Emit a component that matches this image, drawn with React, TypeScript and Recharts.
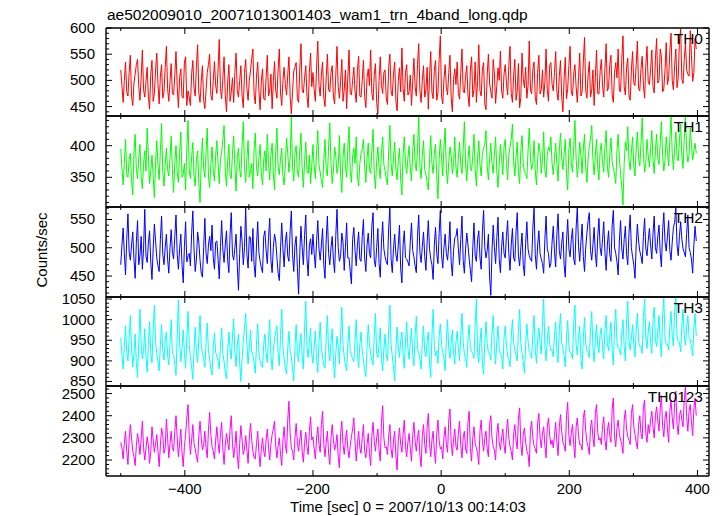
import { LineChart, Line, XAxis, YAxis } from 'recharts'

const FONT = '"Liberation Sans", Arial, Helvetica, sans-serif'

// light curve bins: start time and bin width (sec); each bin has a start and a mid sample
const TIME_START = -500
const TIME_STEP = 3.75

const th0 = [
  520, 458, 535, 470, 548, 452, 512, 540, 462, 558, 468, 525, 445, 538, 475, 552, 455, 530, 478, 565,
  460, 532, 472, 555, 448, 522, 466, 545, 480, 452, 538, 470, 568, 458, 528, 446, 515, 550, 462, 536,
  475, 578, 465, 545, 440, 530, 478, 458, 552, 468, 528, 448, 540, 462, 518, 560, 455, 535, 444, 522,
  462, 548, 480, 446, 536, 466, 560, 452, 525, 472, 545, 436, 518, 534, 458, 570, 476, 528, 448, 552,
  515, 460, 575, 470, 535, 450, 550, 478, 528, 455, 565, 466, 540, 482, 446, 558, 472, 525, 458, 546,
  468, 538, 448, 522, 558, 462, 532, 436, 545, 475, 520, 454, 550, 470, 535, 442, 524, 562, 460, 530,
  478, 452, 542, 470, 570, 458, 528, 482, 445, 555, 465, 538, 476, 585, 455, 530, 472, 548, 440, 522,
  535, 464, 560, 476, 528, 450, 545, 482, 458, 568, 470, 534, 444, 550, 478, 540, 456, 524, 556, 466,
  530, 472, 565, 458, 540, 480, 448, 552, 486, 466, 575, 474, 535, 454, 548, 482, 468, 560, 460, 534,
  480, 555, 462, 538, 440, 544, 484, 565, 470, 530, 458, 552, 478, 582, 466, 536, 482, 452, 558, 474,
  540, 468, 570, 486, 548, 458, 534, 560, 478, 585, 472, 542, 462, 555, 490, 575, 480, 546, 466, 565,
  492, 558, 476, 580, 500, 545, 484, 572, 504, 590, 482, 560, 506, 598, 494, 570, 512, 595, 498, 580,
]
const th0Mid = [
  490, 500, 478, 515, 470, 495, 530, 488, 505, 482, 498, 470, 512, 460, 520, 492, 508, 466, 525, 484,
  498, 475, 510, 488, 505, 470, 535, 452, 468, 512, 485, 528, 476, 498, 462, 480, 530, 472, 500, 490,
  520, 484, 505, 472, 495, 460, 505, 515, 480, 500, 470, 515, 485, 500, 542, 472, 508, 480, 498, 465,
  505, 470, 512, 498, 480, 522, 476, 500, 492, 510, 470, 480, 525, 465, 520, 482, 505, 470, 515, 488,
  482, 525, 490, 512, 468, 505, 482, 515, 470, 510, 488, 498, 460, 520, 505, 475, 500, 478, 520, 470,
  500, 470, 505, 490, 475, 512, 458, 500, 490, 515, 466, 525, 480, 512, 462, 500, 478, 485, 515, 472,
  510, 498, 488, 530, 480, 500, 468, 525, 505, 478, 520, 462, 540, 470, 502, 488, 515, 468, 502, 492,
  475, 515, 480, 508, 472, 520, 468, 535, 498, 480, 522, 455, 510, 495, 466, 512, 490, 500, 480, 512,
  495, 528, 475, 510, 462, 532, 468, 502, 525, 490, 482, 520, 468, 515, 474, 520, 495, 482, 528, 492,
  515, 478, 508, 470, 505, 465, 528, 478, 512, 488, 505, 470, 535, 480, 512, 468, 520, 505, 475, 518,
  490, 522, 480, 530, 472, 515, 505, 480, 540, 488, 525, 470, 520, 495, 530, 484, 522, 492, 528, 498,
  520, 488, 540, 495, 560, 478, 520, 492, 555, 500, 530, 486, 575, 502, 540, 520, 508, 548, 515, 560,
]

const th1 = [
  395, 338, 410, 350, 388, 322, 418, 348, 402, 332, 392, 428, 340, 385, 318, 408, 346, 435, 336, 396,
  352, 415, 326, 400, 342, 422, 355, 330, 440, 348, 405, 336, 392, 310, 412, 350, 428, 334, 398, 344,
  408, 340, 390, 432, 336, 402, 348, 415, 328, 396, 350, 438, 342, 408, 358, 332, 420, 352, 402, 338,
  392, 418, 346, 404, 330, 428, 354, 396, 338, 412, 358, 445, 344, 400, 350, 420, 334, 406, 356, 340,
  402, 348, 424, 358, 334, 410, 352, 436, 340, 398, 356, 416, 326, 404, 350, 430, 342, 396, 414, 336,
  388, 410, 342, 404, 356, 426, 332, 398, 348, 414, 360, 338, 432, 352, 406, 346, 396, 322, 414, 356,
  400, 344, 418, 360, 446, 348, 408, 354, 330, 416, 356, 402, 316, 410, 352, 428, 340, 398, 356, 414,
  350, 406, 356, 438, 344, 400, 360, 418, 336, 408, 352, 396, 424, 346, 404, 356, 414, 334, 402, 354,
  410, 346, 398, 434, 352, 406, 340, 416, 358, 348, 428, 362, 408, 338, 404, 356, 422, 350, 398, 414,
  354, 404, 344, 420, 362, 410, 330, 412, 358, 440, 350, 406, 356, 418, 342, 400, 432, 354, 410, 346,
  404, 358, 424, 350, 412, 364, 340, 418, 356, 306, 406, 430, 362, 414, 352, 422, 368, 444, 358, 410,
  366, 424, 356, 418, 370, 438, 360, 414, 368, 446, 362, 422, 376, 434, 364, 446, 374, 428, 378, 404,
]
const th1Mid = [
  365, 372, 355, 378, 345, 390, 362, 380, 350, 372, 360, 385, 360, 352, 375, 368, 392, 358, 370, 362,
  380, 362, 372, 358, 388, 350, 372, 395, 360, 382, 352, 378, 340, 375, 365, 390, 352, 370, 362, 385,
  372, 378, 410, 360, 375, 352, 388, 368, 382, 362, 400, 365, 380, 350, 372, 395, 365, 380, 356, 378,
  360, 372, 385, 355, 390, 366, 380, 352, 372, 388, 380, 366, 388, 358, 392, 365, 375, 360, 385, 368,
  368, 392, 370, 345, 378, 362, 398, 372, 360, 384, 368, 355, 382, 368, 395, 360, 384, 372, 352, 372,
  395, 368, 380, 362, 392, 355, 375, 365, 390, 370, 348, 392, 372, 380, 362, 378, 345, 385, 372, 380,
  365, 390, 372, 395, 368, 385, 362, 342, 378, 372, 388, 352, 378, 382, 398, 362, 375, 385, 372, 365,
  382, 370, 395, 372, 378, 365, 385, 362, 380, 370, 388, 402, 368, 380, 372, 388, 358, 372, 380, 398,
  372, 385, 410, 375, 382, 358, 392, 372, 356, 392, 380, 372, 360, 378, 390, 375, 362, 385, 392, 372,
  380, 370, 392, 380, 386, 355, 395, 372, 398, 380, 372, 385, 395, 365, 380, 410, 378, 385, 365, 392,
  372, 398, 368, 385, 375, 355, 392, 380, 335, 372, 392, 376, 390, 368, 395, 380, 402, 388, 372, 385,
  395, 378, 392, 380, 405, 385, 378, 392, 410, 388, 395, 382, 408, 385, 412, 392, 385, 402, 392, 388,
]

const th2 = [
  470, 535, 452, 560, 478, 528, 446, 548, 486, 462, 568, 474, 530, 444, 542, 482, 458, 556, 470, 524,
  455, 532, 480, 558, 462, 524, 438, 546, 486, 468, 565, 458, 528, 478, 448, 552, 472, 520, 540, 462,
  512, 445, 548, 474, 530, 456, 562, 478, 524, 425, 538, 470, 570, 464, 518, 534, 448, 546, 476, 456,
  530, 472, 552, 456, 524, 482, 442, 544, 466, 528, 476, 565, 458, 520, 418, 538, 470, 558, 450, 516,
  524, 464, 548, 478, 534, 446, 556, 470, 520, 456, 568, 476, 526, 460, 544, 482, 436, 536, 468, 528,
  476, 550, 458, 526, 482, 562, 466, 534, 448, 546, 484, 470, 570, 456, 524, 476, 540, 438, 530, 480,
  468, 544, 484, 456, 558, 474, 528, 460, 548, 480, 444, 536, 472, 566, 464, 524, 478, 546, 450, 518,
  534, 470, 556, 455, 526, 480, 440, 544, 476, 530, 462, 566, 482, 524, 416, 540, 472, 554, 456, 528,
  482, 548, 460, 534, 476, 562, 468, 526, 450, 546, 486, 476, 570, 462, 530, 480, 455, 556, 490, 472,
  538, 466, 560, 480, 528, 448, 550, 484, 534, 470, 572, 476, 542, 458, 526, 562, 478, 536, 466, 552,
  486, 546, 460, 530, 476, 566, 490, 452, 548, 480, 538, 470, 558, 484, 446, 542, 494, 472, 552, 486,
  534, 480, 556, 490, 540, 466, 562, 494, 548, 478, 536, 570, 486, 546, 498, 484, 558, 492, 455, 538,
]
const th2Mid = [
  505, 490, 515, 492, 505, 480, 510, 470, 520, 498, 485, 508, 475, 498, 512, 468, 515, 488, 500, 480,
  500, 492, 520, 488, 498, 470, 502, 475, 490, 525, 498, 480, 510, 455, 500, 490, 505, 495, 482, 510,
  480, 502, 496, 505, 478, 525, 488, 500, 468, 490, 512, 500, 488, 520, 476, 470, 505, 492, 465, 520,
  495, 518, 478, 500, 512, 455, 500, 498, 510, 485, 530, 488, 505, 465, 490, 500, 522, 480, 505, 488,
  490, 512, 498, 505, 470, 515, 490, 500, 478, 522, 500, 485, 510, 500, 482, 458, 515, 495, 505, 480,
  520, 482, 505, 490, 538, 478, 500, 472, 510, 498, 475, 535, 480, 498, 488, 505, 462, 505, 482, 475,
  512, 495, 468, 520, 492, 502, 485, 510, 498, 470, 505, 490, 525, 488, 500, 490, 505, 475, 495, 520,
  498, 515, 478, 498, 505, 460, 500, 485, 515, 482, 528, 500, 495, 448, 495, 500, 518, 480, 502, 490,
  520, 490, 505, 482, 528, 485, 500, 470, 508, 498, 480, 535, 488, 505, 490, 472, 515, 498, 465, 510,
  492, 525, 495, 508, 470, 512, 498, 515, 480, 535, 502, 510, 485, 500, 548, 495, 505, 490, 520, 500,
  515, 492, 505, 488, 540, 500, 475, 512, 498, 515, 488, 525, 500, 470, 505, 512, 485, 520, 498, 512,
  505, 525, 500, 520, 490, 530, 510, 520, 495, 510, 545, 505, 520, 515, 492, 525, 500, 480, 505, 512,
]

const th3 = [
  955, 880, 985, 900, 1010, 885, 965, 860, 1025, 905, 978, 872, 995, 895, 1035, 918, 876, 988, 902, 970,
  890, 1000, 915, 865, 1048, 898, 975, 882, 1020, 908, 855, 982, 896, 1010, 920, 884, 992, 905, 866, 968,
  912, 880, 980, 898, 856, 970, 904, 1002, 886, 965, 850, 948, 1015, 892, 975, 914, 870, 990, 900, 884,
  965, 896, 1000, 878, 955, 985, 888, 1025, 904, 868, 972, 910, 852, 988, 898, 966, 880, 1045, 908, 980,
  894, 972, 872, 994, 908, 882, 1010, 900, 978, 858, 960, 892, 1030, 910, 876, 985, 914, 898, 1000, 884,
  970, 902, 862, 988, 918, 890, 1015, 908, 980, 876, 965, 900, 1035, 912, 852, 982, 908, 970, 882, 994,
  904, 980, 888, 1008, 918, 880, 985, 910, 970, 860, 1025, 912, 894, 990, 922, 876, 1000, 906, 975, 892,
  972, 900, 1015, 918, 884, 988, 922, 906, 1050, 896, 980, 868, 995, 920, 902, 1010, 892, 984, 916, 880,
  985, 912, 886, 1000, 926, 900, 1025, 918, 870, 990, 922, 906, 1010, 894, 980, 916, 1050, 900, 984, 926,
  910, 994, 896, 1015, 928, 886, 998, 920, 904, 1035, 914, 984, 880, 1005, 926, 908, 1020, 898, 988, 920,
  980, 905, 1010, 925, 994, 890, 1025, 930, 914, 1000, 900, 1045, 926, 988, 910, 1015, 935, 918, 1050, 930,
  995, 918, 1030, 935, 1010, 910, 1052, 940, 926, 1020, 936, 1054, 948, 922, 1025, 938, 1010, 952, 912, 1015,
]
const th3Mid = [
  915, 935, 922, 955, 930, 918, 895, 945, 938, 925, 910, 940, 920, 975, 945, 898, 940, 925, 948, 915,
  940, 918, 892, 960, 942, 930, 920, 955, 940, 885, 925, 918, 955, 938, 905, 942, 925, 880, 935, 920,
  900, 935, 918, 872, 925, 930, 960, 920, 938, 895, 905, 978, 940, 932, 922, 895, 940, 918, 890, 940,
  920, 955, 912, 925, 970, 918, 962, 935, 882, 930, 925, 880, 935, 918, 945, 912, 980, 932, 948, 915,
  935, 905, 945, 930, 890, 955, 925, 945, 900, 918, 935, 962, 940, 892, 940, 922, 905, 950, 920, 938,
  925, 880, 935, 942, 902, 960, 918, 942, 905, 930, 915, 975, 940, 885, 925, 935, 948, 915, 948, 930,
  945, 915, 962, 930, 905, 945, 922, 948, 895, 960, 935, 925, 960, 938, 905, 950, 928, 942, 918, 945,
  930, 962, 945, 905, 955, 930, 918, 985, 920, 948, 895, 945, 942, 918, 968, 925, 950, 930, 912, 955,
  938, 905, 960, 945, 915, 975, 942, 898, 940, 948, 918, 965, 928, 950, 942, 995, 935, 952, 940, 925,
  962, 918, 975, 945, 915, 960, 935, 918, 990, 940, 960, 905, 955, 942, 920, 975, 932, 955, 938, 965,
  930, 975, 942, 960, 925, 985, 945, 928, 968, 935, 1000, 948, 955, 940, 975, 948, 935, 1005, 955, 970,
  945, 1000, 950, 975, 945, 1010, 955, 940, 985, 960, 1020, 958, 945, 985, 962, 980, 958, 935, 980, 960,
]

const th0123 = [
  2280, 2205, 2330, 2180, 2360, 2240, 2175, 2320, 2225, 2375, 2200, 2305, 2185, 2350, 2235, 2315, 2170, 2345, 2230, 2385,
  2210, 2330, 2240, 2400, 2215, 2340, 2170, 2315, 2450, 2225, 2360, 2250, 2190, 2375, 2245, 2330, 2210, 2415, 2260, 2205,
  2350, 2230, 2370, 2180, 2320, 2245, 2400, 2210, 2330, 2160, 2355, 2225, 2310, 2185, 2365, 2240, 2205, 2330, 2170, 2300,
  2215, 2340, 2200, 2315, 2375, 2210, 2300, 2175, 2350, 2230, 2465, 2255, 2200, 2365, 2240, 2335, 2190, 2325, 2225, 2395,
  2305, 2205, 2350, 2235, 2420, 2215, 2330, 2180, 2360, 2245, 2315, 2165, 2375, 2225, 2335, 2210, 2305, 2390, 2195, 2330,
  2230, 2360, 2210, 2320, 2175, 2370, 2240, 2340, 2195, 2445, 2255, 2225, 2360, 2210, 2330, 2155, 2345, 2235, 2380, 2215,
  2320, 2195, 2370, 2240, 2335, 2170, 2360, 2230, 2410, 2215, 2330, 2185, 2380, 2250, 2205, 2350, 2235, 2430, 2220, 2340,
  2245, 2375, 2210, 2330, 2230, 2420, 2195, 2350, 2255, 2180, 2380, 2240, 2330, 2215, 2400, 2260, 2200, 2365, 2245, 2340,
  2230, 2385, 2260, 2200, 2360, 2250, 2435, 2220, 2345, 2240, 2170, 2375, 2265, 2230, 2410, 2255, 2350, 2210, 2390, 2270,
  2255, 2370, 2220, 2405, 2280, 2240, 2460, 2265, 2360, 2210, 2390, 2270, 2245, 2425, 2280, 2225, 2380, 2260, 2450, 2290,
  2270, 2395, 2245, 2370, 2280, 2480, 2260, 2380, 2290, 2230, 2425, 2305, 2270, 2450, 2315, 2250, 2400, 2295, 2470, 2280,
  2320, 2420, 2300, 2440, 2330, 2490, 2305, 2420, 2280, 2470, 2340, 2510, 2315, 2425, 2350, 2530, 2330, 2450, 2310, 2480,
]
const th0123Mid = [
  2255, 2275, 2240, 2290, 2300, 2215, 2265, 2280, 2295, 2255, 2250, 2265, 2240, 2290, 2275, 2240, 2265, 2310, 2255, 2300,
  2275, 2255, 2330, 2300, 2275, 2235, 2260, 2390, 2310, 2290, 2275, 2215, 2310, 2300, 2270, 2255, 2335, 2315, 2240, 2290,
  2280, 2320, 2250, 2265, 2280, 2340, 2275, 2260, 2220, 2275, 2290, 2250, 2245, 2300, 2290, 2210, 2275, 2235, 2250, 2240,
  2290, 2255, 2270, 2340, 2260, 2265, 2225, 2290, 2270, 2380, 2320, 2240, 2300, 2280, 2290, 2240, 2275, 2260, 2330, 2290,
  2250, 2300, 2270, 2360, 2275, 2280, 2230, 2300, 2290, 2270, 2215, 2320, 2270, 2290, 2250, 2265, 2340, 2280, 2270, 2255,
  2300, 2240, 2270, 2230, 2310, 2285, 2300, 2245, 2370, 2300, 2260, 2310, 2250, 2285, 2220, 2290, 2270, 2320, 2260, 2280,
  2250, 2310, 2285, 2300, 2220, 2310, 2270, 2350, 2275, 2290, 2240, 2320, 2290, 2260, 2300, 2270, 2380, 2285, 2290, 2260,
  2320, 2265, 2300, 2250, 2370, 2250, 2300, 2275, 2230, 2330, 2285, 2300, 2250, 2360, 2300, 2245, 2320, 2280, 2300, 2265,
  2330, 2300, 2240, 2320, 2290, 2390, 2270, 2315, 2280, 2225, 2340, 2300, 2250, 2370, 2300, 2320, 2265, 2350, 2310, 2290,
  2310, 2280, 2350, 2330, 2265, 2400, 2310, 2320, 2270, 2350, 2310, 2270, 2390, 2330, 2260, 2350, 2300, 2410, 2325, 2300,
  2350, 2290, 2330, 2310, 2430, 2300, 2345, 2320, 2270, 2380, 2340, 2290, 2410, 2350, 2280, 2360, 2320, 2440, 2320, 2360,
  2380, 2350, 2400, 2375, 2430, 2350, 2390, 2340, 2420, 2390, 2460, 2360, 2400, 2380, 2470, 2395, 2420, 2370, 2430, 2400,
]

const timeTicks = [-500, -400, -300, -200, -100, 0, 100, 200, 300, 400]
const timeLabels = [-400, -200, 0, 200, 400]

const th0Labels = [450, 500, 550, 600]
const th1Labels = [350, 400]
const th2Labels = [450, 500, 550]
const th3Labels = [850, 900, 950, 1000, 1050]
const th0123Labels = [2200, 2300, 2400, 2500]

function steps(from: number, to: number, step: number) {
  const out: number[] = []
  for (let v = from; v <= to; v += step) out.push(v)
  return out
}

const PLOT_LEFT = 106
const PLOT_RIGHT = 709
const AXIS_W = 60
const RIGHT_W = 4
const PAD = 12
const LAST_AXIS_H = 30
const X_DOMAIN: [number, number] = [-523, 418]

const panels = [
  { name: 'TH0', values: th0, mid: th0Mid, color: '#ff0000', top: 28, bottom: 116, domain: [432, 600], minor: steps(440, 600, 10), labels: th0Labels },
  { name: 'TH1', values: th1, mid: th1Mid, color: '#00ff00', top: 116, bottom: 207, domain: [303, 447], minor: steps(310, 440, 10), labels: th1Labels },
  { name: 'TH2', values: th2, mid: th2Mid, color: '#0000ff', top: 207, bottom: 297, domain: [413, 572], minor: steps(420, 570, 10), labels: th2Labels },
  { name: 'TH3', values: th3, mid: th3Mid, color: '#00ffff', top: 297, bottom: 386, domain: [839, 1055], minor: steps(840, 1050, 10), labels: th3Labels },
  { name: 'TH0123', values: th0123, mid: th0123Mid, color: '#ff00ff', top: 386, bottom: 476, domain: [2128, 2534], minor: steps(2140, 2520, 20), labels: th0123Labels },
]

const textStyle = { fontFamily: FONT, fontSize: 15, fill: '#000' }

function LeftTick(props: any) {
  const { x, y, payload, labels } = props
  const major = labels.includes(payload.value)
  return (
    <g>
      <path d={`M${x},${y}h${major ? 6 : 3}`} stroke="#000" strokeWidth={1} fill="none" />
      {major && (
        <text x={x - 11} y={y} dy={5} textAnchor="end" style={textStyle}>{payload.value}</text>
      )}
    </g>
  )
}

function RightTick(props: any) {
  const { x, y, payload, labels } = props
  const major = labels.includes(payload.value)
  return <path d={`M${x},${y}h${major ? -6 : -3}`} stroke="#000" strokeWidth={1} fill="none" />
}

function TopTick(props: any) {
  const { x, y, payload } = props
  const major = timeLabels.includes(payload.value)
  return <path d={`M${x},${y}v${major ? 6 : 3}`} stroke="#000" strokeWidth={1} fill="none" />
}

function BottomTick(props: any) {
  const { x, y, payload, showLabel } = props
  const major = timeLabels.includes(payload.value)
  return (
    <g>
      <path d={`M${x},${y}v${major ? -6 : -3}`} stroke="#000" strokeWidth={1} fill="none" />
      {showLabel && major && (
        <text x={x} y={y + 18} textAnchor="middle" style={textStyle}>
          {payload.value < 0 ? '\u2212' + Math.abs(payload.value) : payload.value}
        </text>
      )}
    </g>
  )
}

function Panel({ p, last }: { p: (typeof panels)[number]; last: boolean }) {
  const data: { t: number; v: number }[] = []
  p.values.forEach((v, i) => {
    const t = TIME_START + i * TIME_STEP
    data.push({ t, v })
    data.push({ t: t + TIME_STEP / 2, v: p.mid[i] })
  })
  const plotH = p.bottom - p.top
  const bottomH = last ? LAST_AXIS_H : 1
  const marginBottom = last ? 2 : PAD - 1
  const axisLine = { stroke: '#000', strokeWidth: 1.4 }
  return (
    <div style={{ position: 'absolute', left: PLOT_LEFT - AXIS_W, top: p.top - PAD }}>
      <LineChart
        width={AXIS_W + (PLOT_RIGHT - PLOT_LEFT) + RIGHT_W}
        height={PAD + plotH + bottomH + marginBottom}
        data={data}
        margin={{ top: PAD - 1, right: 0, bottom: marginBottom, left: 0 }}
      >
        <XAxis
          xAxisId="b"
          dataKey="t"
          type="number"
          domain={X_DOMAIN}
          allowDataOverflow
          ticks={timeTicks}
          interval={0}
          height={bottomH}
          tickSize={0}
          tickMargin={0}
          tickLine={false}
          axisLine={axisLine}
          stroke="#000"
          tick={(tp: any) => <BottomTick {...tp} showLabel={last} />}
        />
        <XAxis
          xAxisId="t"
          orientation="top"
          dataKey="t"
          type="number"
          domain={X_DOMAIN}
          allowDataOverflow
          ticks={timeTicks}
          interval={0}
          height={1}
          tickSize={0}
          tickMargin={0}
          tickLine={false}
          axisLine={axisLine}
          stroke="#000"
          tick={(tp: any) => <TopTick {...tp} />}
        />
        <YAxis
          yAxisId="l"
          type="number"
          domain={p.domain}
          allowDataOverflow
          ticks={p.minor}
          interval={0}
          width={AXIS_W}
          tickSize={0}
          tickMargin={0}
          tickLine={false}
          axisLine={axisLine}
          stroke="#000"
          tick={(tp: any) => <LeftTick {...tp} labels={p.labels} />}
        />
        <YAxis
          yAxisId="r"
          orientation="right"
          type="number"
          domain={p.domain}
          allowDataOverflow
          ticks={p.minor}
          interval={0}
          width={RIGHT_W}
          tickSize={0}
          tickMargin={0}
          tickLine={false}
          axisLine={axisLine}
          stroke="#000"
          tick={(tp: any) => <RightTick {...tp} labels={p.labels} />}
        />
        <Line
          xAxisId="b"
          yAxisId="l"
          type="linear"
          dataKey="v"
          stroke={p.color}
          strokeWidth={1}
          dot={false}
          activeDot={false}
          isAnimationActive={false}
        />
      </LineChart>
      <div
        style={{
          position: 'absolute',
          right: RIGHT_W + 6,
          top: PAD + 2,
          fontFamily: FONT,
          fontSize: 15.5,
          color: '#000',
          lineHeight: '18px',
        }}
      >
        {p.name}
      </div>
    </div>
  )
}

export default function App() {
  return (
    <div style={{ position: 'absolute', left: 0, top: 0, width: 724, height: 516, background: '#fff', overflow: 'hidden' }}>
      <svg width={724} height={516} style={{ position: 'absolute', left: 0, top: 0 }}>
        <text x={107} y={20} style={{ ...textStyle, fontSize: 15.5 }}>ae502009010_20071013001403_wam1_trn_4band_long.qdp</text>
        <text x={42} y={250} textAnchor="middle" transform="rotate(-90 42 250)" dy={5} style={textStyle}>Counts/sec</text>
        <text x={408} y={512} textAnchor="middle" style={textStyle}>Time [sec] 0 = 2007/10/13 00:14:03</text>
      </svg>
      {panels.map((p, i) => (
        <Panel key={p.name} p={p} last={i === panels.length - 1} />
      ))}
    </div>
  )
}
